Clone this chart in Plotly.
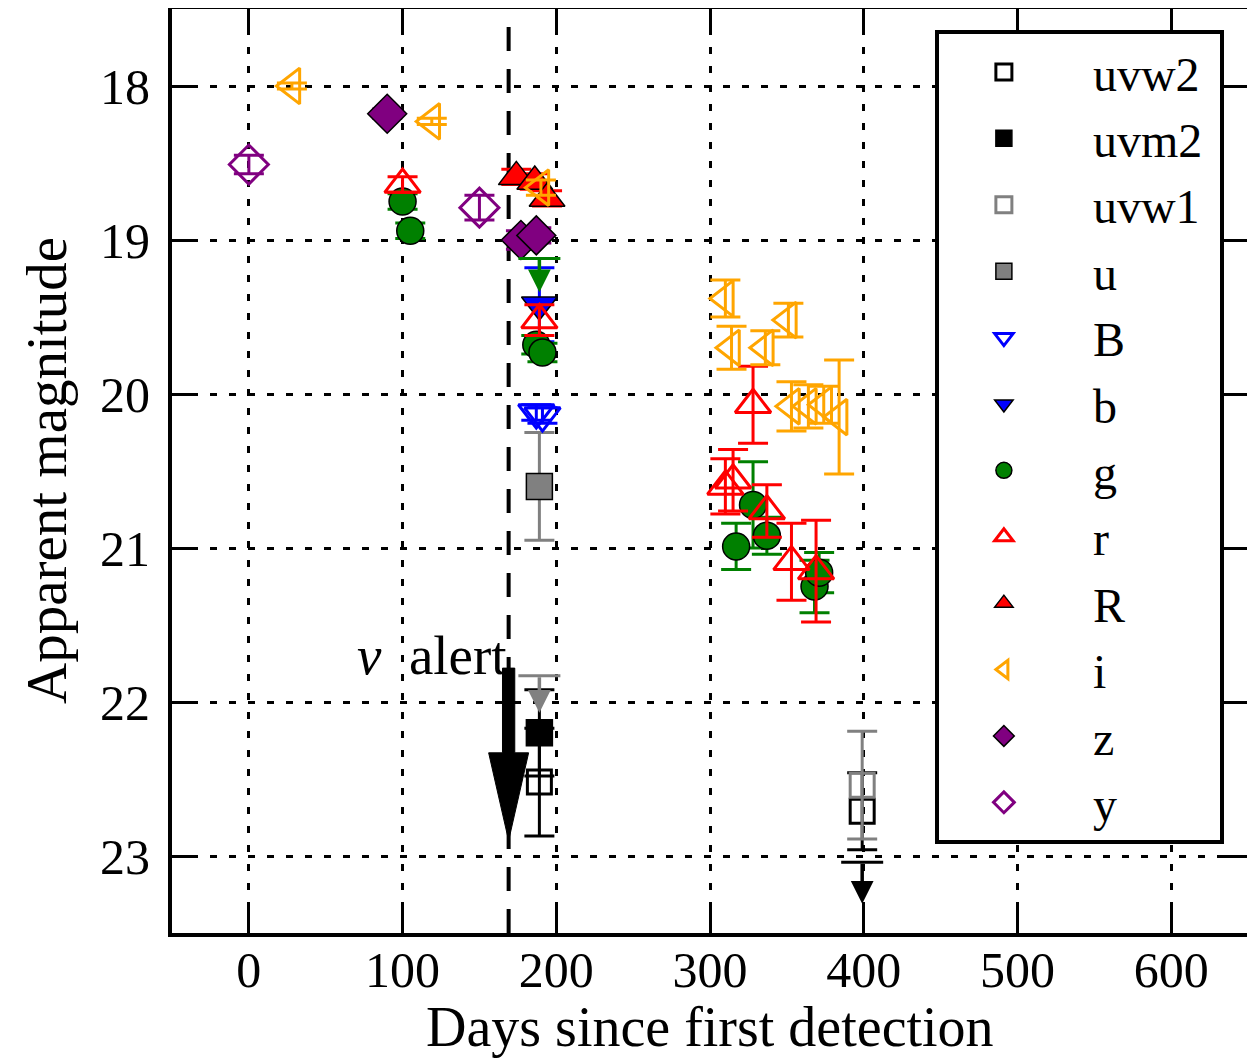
import plotly.graph_objects as go

# ---------------- data (days since first detection, apparent magnitude, error) -------------
uvw2_days = [189, 399]
uvw2_mag = [22.52, 22.71]
uvw2_err = [0.35, 0.25]

uvm2_days = [189]
uvm2_mag = [22.20]
uvm2_err = [0.28]

uvw1_days = [399]
uvw1_mag = [22.54]
uvw1_err = [0.35]

u_days = [189]
u_mag = [20.60]
u_err = [0.35]

B_days = [187, 191]
B_mag = [20.12, 20.14]
B_err = [0.05, 0.05]

b_days = [189]
b_mag = [19.42]
b_err = [0.24]

g_days = [100, 105, 187, 191, 317, 328, 337, 368, 371]
g_mag = [18.75, 18.94, 19.68, 19.73, 20.99, 20.72, 20.92, 21.25, 21.16]
g_err = [0.05, 0.05, 0.06, 0.06, 0.15, 0.28, 0.12, 0.17, 0.13]

r_days = [100, 189, 310, 315, 328, 337, 353, 369]
r_mag = [18.64, 19.52, 20.60, 20.56, 20.07, 20.76, 21.09, 21.15]
r_err = [0.05, 0.10, 0.18, 0.20, 0.25, 0.17, 0.25, 0.33]

R_days = [174, 186, 194]
R_mag = [18.59, 18.62, 18.73]
R_err = [0.05, 0.05, 0.05]

i_days = [28, 119, 190, 310, 314, 336, 351, 353, 364, 374, 384]
i_mag = [18.00, 18.23, 18.66, 19.38, 19.70, 19.70, 19.52, 20.08, 20.08, 20.07, 20.15]
i_err = [0.02, 0.02, 0.05, 0.12, 0.14, 0.11, 0.11, 0.16, 0.14, 0.12, 0.37]

z_days = [90, 177, 187]
z_mag = [18.18, 19.00, 18.97]
z_err = [0.03, 0.06, 0.05]

y_days = [0, 150]
y_mag = [18.51, 18.79]
y_err = [0.06, 0.08]

# upper limits (arrows pointing to fainter magnitudes)
lim_days = [189, 189, 399]
lim_mag = [19.12, 21.83, 23.04]
lim_len = [0.22, 0.24, 0.27]
lim_color = ["green", "gray", "black"]

# neutrino alert
alert_day = 169
alert_top = 21.78
alert_head = 22.33
alert_tip = 22.90

x_ticks = [0, 100, 200, 300, 400, 500, 600]
y_ticks = [18, 19, 20, 21, 22, 23]

# ---------------- figure -------------
FONT = "Liberation Serif"
NB = "\u00a0"
bands = [
    ("uvw2", uvw2_days, uvw2_mag, uvw2_err, "square-open", "black", "black", 3),
    ("uvm2", uvm2_days, uvm2_mag, uvm2_err, "square", "black", "black", 1.5),
    ("uvw1", uvw1_days, uvw1_mag, uvw1_err, "square-open", "gray", "gray", 3),
    ("u", u_days, u_mag, u_err, "square", "gray", "black", 1.5),
    ("B", B_days, B_mag, B_err, "triangle-down-open", "blue", "blue", 3),
    ("b", b_days, b_mag, b_err, "triangle-down", "blue", "black", 1.5),
    ("g", g_days, g_mag, g_err, "circle", "green", "black", 1.5),
    ("r", r_days, r_mag, r_err, "triangle-up-open", "red", "red", 3),
    ("R", R_days, R_mag, R_err, "triangle-up", "red", "black", 1.5),
    ("i", i_days, i_mag, i_err, "triangle-left-open", "orange", "orange", 3),
    ("z", z_days, z_mag, z_err, "diamond", "purple", "black", 1.5),
    ("y", y_days, y_mag, y_err, "diamond-open", "purple", "purple", 3),
]
sizes = {"square": 26, "square-open": 24, "circle": 27, "diamond": 30, "diamond-open": 30}

fig = go.Figure()
for k, (name, d, m, e, sym, col, edge, lw) in enumerate(bands):
    fig.add_trace(go.Scatter(
        x=d, y=m, mode="markers", name=NB * 2 + name + NB,
        legendgroup=name,
        marker=dict(symbol=sym, size=sizes.get(sym, 31), color=col,
                    line=dict(color=edge, width=lw)),
        error_y=dict(type="data", array=e, visible=True, color=col,
                     thickness=3, width=15),
    ))

# caps for upper limits
for d, m, c in zip(lim_days, lim_mag, lim_color):
    fig.add_trace(go.Scatter(
        x=[d], y=[m], mode="markers", showlegend=False, hoverinfo="skip",
        marker=dict(symbol="line-ew", size=30, line=dict(color=c, width=3)),
    ))

# arrows for upper limits
for d, m, L, c in zip(lim_days, lim_mag, lim_len, lim_color):
    fig.add_annotation(x=d, y=m + L, ax=d, ay=m, xref="x", yref="y",
                       axref="x", ayref="y", showarrow=True, text="",
                       arrowhead=2, arrowsize=1.3, arrowwidth=3.5, arrowcolor=c)

# alert dashed line
fig.add_shape(type="line", xref="x", yref="paper", x0=alert_day, x1=alert_day,
              y0=0, y1=1, line=dict(color="black", width=4, dash="24px,18px"),
              layer="below")

# big alert arrow
sw, hw = 4.0, 13.0
path = (f"M {alert_day - sw},{alert_top} L {alert_day + sw},{alert_top} "
        f"L {alert_day + sw},{alert_head} L {alert_day + hw},{alert_head} "
        f"L {alert_day},{alert_tip} L {alert_day - hw},{alert_head} "
        f"L {alert_day - sw},{alert_head} Z")
fig.add_shape(type="path", path=path, xref="x", yref="y",
              fillcolor="black", line=dict(color="black", width=1))

fig.add_annotation(x=119, y=21.70, xref="x", yref="y", text="<i>ν</i>" + NB + " alert",
                   showarrow=False, font=dict(family=FONT, size=55, color="black"),
                   xanchor="center", yanchor="middle")

# axis titles
fig.add_annotation(x=0.5, y=0, xref="paper", yref="paper", yshift=-94,
                   text="Days since first detection", showarrow=False,
                   font=dict(family=FONT, size=56, color="black"),
                   xanchor="center", yanchor="middle")
fig.add_annotation(x=0, y=0.5, xref="paper", yref="paper", xshift=-126,
                   text="Apparent magnitude", showarrow=False, textangle=-90,
                   font=dict(family=FONT, size=57, color="black"),
                   xanchor="center", yanchor="middle")

axis_common = dict(
    showline=True, linewidth=4, linecolor="black", mirror="ticks",
    ticks="inside", ticklen=24, tickwidth=3, tickcolor="black",
    showgrid=True, gridcolor="black", gridwidth=2.5, griddash="7px,12px",
    zeroline=False, tickfont=dict(family=FONT, size=50, color="black"),
    automargin=False,
)

fig.update_xaxes(range=[-50, 650], tickvals=x_ticks, ticklabelstandoff=-10, **axis_common)
fig.update_yaxes(range=[23.5, 17.5], tickvals=y_ticks, ticklabelstandoff=8, **axis_common)

fig.update_layout(
    width=1247, height=1050,
    margin=dict(l=164, r=7, t=1, b=125),
    plot_bgcolor="white", paper_bgcolor="white",
    legend=dict(x=0.709, y=0.977, xanchor="left", yanchor="top",
                bgcolor="white", bordercolor="black", borderwidth=4,
                font=dict(family=FONT, size=48, color="black"),
                traceorder="grouped", tracegroupgap=1, itemwidth=120),
    showlegend=True,
)

fig.write_html("out.html")
